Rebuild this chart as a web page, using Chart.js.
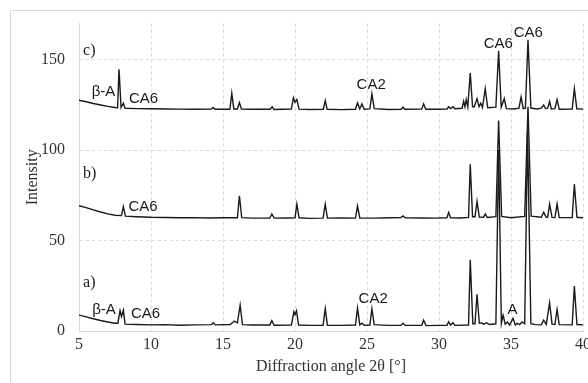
<!DOCTYPE html>
<html>
<head>
<meta charset="utf-8">
<script src="https://cdn.jsdelivr.net/npm/chart.js@4/dist/chart.umd.min.js"></script>
<style>
  html, body { margin: 0; padding: 0; background: #fff; overflow: hidden; width: 588px; height: 383px; }
  #frame { position: absolute; left: 10px; top: 10px; width: 660px; height: 420px; border: 1px solid #d9d9d9; }
  #chart { position: absolute; left: 0; top: 0; }
</style>
</head>
<body>
<div id="frame"></div>
<canvas id="chart" width="620" height="383"></canvas>
<script>
// [2θ, intensity]
const patternA = [
  [5, 8.8], [5.5, 7.8], [6, 6.8], [6.5, 5.8], [7, 5.0], [7.5, 4.3], [7.7, 4.3], [7.85, 11.2], [7.95, 8],
  [8.08, 11.5], [8.2, 3.8], [9, 3.6], [10, 3.4], [11, 3.5], [12, 3.2], [13, 3.4], [14.2, 3.5], [14.33, 4.6],
  [14.45, 3.4], [15.5, 3.6], [15.79, 5.5], [16.0, 4.5], [16.19, 14.3], [16.35, 3.5], [17, 3.3], [18.25, 3.3],
  [18.39, 5.7], [18.55, 3.2], [19.75, 3.3], [19.92, 10.6], [20.0, 9], [20.1, 11.2], [20.25, 3.3], [21.0, 3.1],
  [21.95, 3.2], [22.1, 12.4], [22.25, 3.2], [23.2, 3.1], [24.2, 3.3], [24.34, 12.7], [24.5, 3.4], [24.65, 4.3],
  [24.8, 3.2], [25.2, 3.3], [25.34, 12.3], [25.5, 3.5], [26.5, 3.1], [27.35, 3.1], [27.5, 4.3], [27.65, 3.1],
  [28.8, 3.2], [28.93, 6], [29.1, 3.0], [30.0, 3.1], [30.55, 3.2], [30.67, 5.1], [30.8, 3.3], [30.97, 4.6],
  [31.1, 3.1], [32.05, 3.3], [32.17, 39.4], [32.35, 4.0], [32.5, 4.0], [32.64, 20.3], [32.8, 4.3], [32.95, 4.5],
  [33.1, 3.8], [33.3, 4.5], [33.5, 3.6], [33.95, 4.0], [34.14, 100], [34.33, 4.2], [34.45, 8.8], [34.6, 3.8],
  [34.76, 5], [34.9, 3.3], [35.14, 7], [35.3, 3.3], [35.42, 4.2], [35.6, 3.5], [35.76, 5], [35.95, 4],
  [36.15, 110], [36.38, 4], [36.7, 3.5], [37.1, 3.4], [37.27, 6], [37.45, 3.6], [37.68, 15.6], [37.85, 3.8],
  [38.05, 3.6], [38.2, 11.9], [38.35, 3.5], [39.25, 3.4], [39.4, 24.8], [39.58, 3.6], [40, 3.4]
];
const patternB = [
  [5, 69.3], [5.5, 68.2], [6, 67], [6.5, 65.8], [7, 64.8], [7.5, 64], [7.95, 63.8], [8.08, 68.8], [8.22, 63.5],
  [9, 63.2], [10, 62.9], [11, 62.8], [12, 62.6], [13, 62.7], [14, 62.5], [15, 62.6], [16.0, 62.6], [16.14, 74.8],
  [16.3, 62.7], [17, 62.4], [18.25, 62.5], [18.39, 64.7], [18.55, 62.4], [19.5, 62.5], [20.0, 62.6], [20.13, 70.2],
  [20.28, 62.6], [21, 62.3], [21.95, 62.4], [22.1, 70.2], [22.25, 62.4], [23.2, 62.5], [24.2, 62.4], [24.34, 69.1],
  [24.5, 62.5], [25.5, 62.4], [26.5, 62.6], [27.35, 62.7], [27.5, 63.6], [27.65, 62.6], [28.9, 62.5], [29.7, 62.4],
  [30.55, 62.6], [30.67, 65.6], [30.8, 62.6], [31.5, 62.5], [32.05, 62.8], [32.17, 92.2], [32.33, 63.2], [32.5, 63.2],
  [32.64, 71.7], [32.8, 63], [33.1, 62.9], [33.21, 64.7], [33.35, 62.8], [33.95, 63.2], [34.14, 116.4], [34.35, 63.4],
  [35, 62.6], [35.95, 63.4], [36.18, 124], [36.4, 63.5], [37.1, 62.9], [37.27, 65.6], [37.45, 62.8], [37.55, 63],
  [37.68, 70.2], [37.85, 62.8], [38.05, 62.7], [38.2, 70.2], [38.35, 62.7], [39.25, 62.8], [39.4, 81.2], [39.58, 62.9],
  [40, 62.6]
];
const patternC = [
  [5, 127.6], [5.5, 126.8], [6, 125.8], [6.5, 125], [7, 124.2], [7.5, 123.6], [7.68, 123.5], [7.78, 144.8],
  [7.92, 123.6], [8.08, 126], [8.2, 123.2], [9, 123], [10, 122.9], [11, 122.8], [12, 122.7], [13, 122.6],
  [14.2, 122.7], [14.31, 123.6], [14.45, 122.6], [15.48, 122.6], [15.61, 131.5], [15.75, 122.8], [16.0, 122.8],
  [16.14, 126.3], [16.28, 122.7], [17, 122.6], [18.28, 122.6], [18.41, 124], [18.55, 122.5], [19.75, 122.8],
  [19.89, 129], [20.0, 126.5], [20.13, 128], [20.28, 122.7], [21, 122.5], [21.97, 122.6], [22.1, 127.4],
  [22.23, 122.6], [23.2, 122.4], [24.2, 122.6], [24.34, 126.1], [24.5, 122.8], [24.65, 125.6], [24.8, 122.6],
  [25.2, 122.8], [25.34, 131.1], [25.5, 123], [26.5, 122.5], [27.38, 122.6], [27.5, 123.8], [27.62, 122.6],
  [28.8, 122.7], [28.93, 125.6], [29.08, 122.6], [30.0, 122.6], [30.55, 122.8], [30.67, 124], [30.8, 123],
  [30.97, 124], [31.1, 122.9], [31.6, 123.2], [31.71, 127], [31.8, 124], [31.89, 128], [32.0, 124], [32.17, 142.6],
  [32.33, 124], [32.45, 124], [32.64, 128.5], [32.78, 124], [32.9, 126], [33.02, 123.6], [33.21, 134], [33.38, 123.5],
  [33.95, 123.8], [34.14, 155], [34.32, 123.8], [34.53, 128.5], [34.68, 123], [35.2, 122.8], [35.55, 123.2],
  [35.7, 129.4], [35.85, 123], [36.0, 123.2], [36.18, 161], [36.38, 123.3], [36.8, 122.8], [37.1, 123.2],
  [37.27, 125], [37.4, 123], [37.55, 123.2], [37.68, 127], [37.8, 122.8], [38.05, 123], [38.2, 128], [38.35, 122.6],
  [39.25, 122.8], [39.4, 134], [39.57, 122.9], [40, 122.7]
];

const xTicks = [5, 10, 15, 20, 25, 30, 35, 40];
const yTicks = [0, 50, 100, 150];

// phase labels and pattern letters, placed at [2θ, intensity]
const phaseLabels = [
  ["β-A", 6.7, 132.5], ["CA6", 9.48, 128.3], ["CA2", 25.29, 136.2], ["CA6", 34.12, 159], ["CA6", 36.2, 165],
  ["CA6", 9.45, 68.4],
  ["β-A", 6.74, 11.5], ["CA6", 9.62, 9.7], ["CA2", 25.43, 18], ["A", 35.11, 11.9]
];
const patternLetters = [["c)", 5.28, 155], ["b)", 5.28, 87], ["a)", 5.28, 26.4]];

const toPoints = (arr) => arr.map(([x, y]) => ({ x, y }));

const labelPlugin = {
  id: "labels",
  afterDatasetsDraw(chart) {
    const ctx = chart.ctx;
    const xs = chart.scales.x, ys = chart.scales.y;
    ctx.save();
    ctx.fillStyle = "#1a1a1a";
    ctx.textBaseline = "middle";
    ctx.textAlign = "center";
    ctx.font = "15px 'Liberation Sans', Arial, sans-serif";
    phaseLabels.forEach(([t, x, y]) => ctx.fillText(t, xs.getPixelForValue(x), ys.getPixelForValue(y)));
    ctx.textAlign = "left";
    ctx.font = "16px 'Liberation Serif', 'Times New Roman', serif";
    patternLetters.forEach(([t, x, y]) => ctx.fillText(t, xs.getPixelForValue(x), ys.getPixelForValue(y)));
    ctx.restore();
  }
};

const lineStyle = { borderColor: "#1a1a1a", borderWidth: 1.4, pointRadius: 0, tension: 0, fill: false };
const serif = { family: "'Liberation Serif', 'Times New Roman', serif", size: 16 };

new Chart(document.getElementById("chart"), {
  type: "line",
  data: {
    datasets: [
      { label: "a)", data: toPoints(patternA), ...lineStyle },
      { label: "b)", data: toPoints(patternB), ...lineStyle },
      { label: "c)", data: toPoints(patternC), ...lineStyle },
    ],
  },
  options: {
    responsive: false,
    animation: false,
    devicePixelRatio: 1,
    layout: { padding: { top: 22, right: 37, left: 0, bottom: 0 } },
    plugins: { legend: { display: false }, tooltip: { enabled: false } },
    scales: {
      x: {
        type: "linear",
        min: 5,
        max: 40,
        afterBuildTicks: (s) => { s.ticks = xTicks.map((v) => ({ value: v })); },
        afterFit: (s) => { s.height = 52; },
        grid: { color: "#d9d9d9", drawTicks: false },
        border: { color: "#d9d9d9", dash: (c) => (c.type === "tick" ? [3, 3] : []) },
        ticks: { font: serif, color: "#333", padding: 4 },
        title: { display: true, text: "Diffraction angle 2θ [°]", font: serif, color: "#333", padding: { top: 0, bottom: 7 } },
      },
      y: {
        min: 0,
        max: 170,
        afterBuildTicks: (s) => { s.ticks = yTicks.map((v) => ({ value: v })); },
        afterFit: (s) => { s.width = 79; },
        grid: { color: "#d9d9d9", drawTicks: false },
        border: { color: "#d9d9d9", dash: (c) => (c.type === "tick" ? [3, 3] : []) },
        ticks: { font: serif, color: "#333", padding: 14 },
        title: { display: true, text: "Intensity", font: serif, color: "#333", padding: { top: 23, bottom: 0 } },
      },
    },
  },
  plugins: [labelPlugin],
});
</script>
</body>
</html>
